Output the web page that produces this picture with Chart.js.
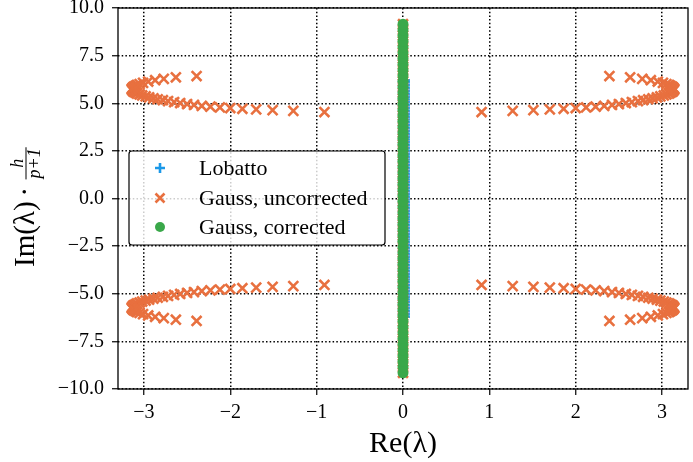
<!DOCTYPE html>
<html><head><meta charset="utf-8">
<script src="https://cdn.jsdelivr.net/npm/chart.js@4.4.0/dist/chart.umd.min.js"></script>
<style>html,body{margin:0;padding:0;background:#fff}</style>
</head><body>
<canvas id="c" width="693" height="462"></canvas>
<script>
// ---- data ----
const xTicks = [-3, -2, -1, 0, 1, 2, 3];
const yTicks = [-10, -7.5, -5, -2.5, 0, 2.5, 5, 7.5, 10];
const seriesNames = ["Lobatto", "Gauss, uncorrected", "Gauss, corrected"];

// eigenvalues on the imaginary axis (Re = 0)
const centerIm = [-9.15,-8.85,-8.55,-8.25,-7.95,-7.65,-7.35,-7.05,-6.75,-6.45,-6.15,-5.85,-5.55,-5.25,-4.95,-4.65,-4.35,-4.05,-3.75,-3.45,-3.15,-2.85,-2.55,-2.25,-1.95,-1.65,-1.35,-1.05,-0.75,-0.45,-0.15,0.15,0.45,0.75,1.05,1.35,1.65,1.95,2.25,2.55,2.85,3.15,3.45,3.75,4.05,4.35,4.65,4.95,5.25,5.55,5.85,6.15,6.45,6.75,7.05,7.35,7.65,7.95,8.25,8.55,8.85,9.15];
const lobattoIm = [-6.2,-6.05,-5.9,-5.75,-5.6,-5.45,-5.3,-5.15,-5.0,-4.85,-4.7,-4.55,-4.4,-4.25,-4.1,-3.95,-3.8,-3.65,-3.5,-3.35,-3.2,-3.05,-2.9,-2.75,-2.6,-2.45,-2.3,-2.15,-2.0,-1.85,-1.7,-1.55,-1.4,-1.25,-1.1,-0.95,-0.8,-0.65,-0.5,-0.35,-0.2,-0.05,0.1,0.25,0.4,0.55,0.7,0.85,1.0,1.15,1.3,1.45,1.6,1.75,1.9,2.05,2.2,2.35,2.5,2.65,2.8,2.95,3.1,3.25,3.4,3.55,3.7,3.85,4.0,4.15,4.3,4.45,4.6,4.75,4.9,5.05,5.2,5.35,5.5,5.65,5.8,5.95,6.1,6.2];
const lobattoRe = 0.01;

// Gauss, uncorrected: the four loops
const ulRe = [-0.91,-1.27,-1.51,-1.70,-1.86,-2.00,-2.12,-2.23,-2.33,-2.42,-2.50,-2.58,-2.65,-2.72,-2.78,-2.84,-2.89,-2.94,-2.98,-3.02,-3.05,-3.08,-3.10,-3.12,-3.13,-3.14,-3.14,-3.13,-3.12,-3.10,-3.08,-3.05,-3.01,-2.95,-2.87,-2.77,-2.63,-2.39];
const ulIm = [4.54,4.60,4.64,4.68,4.71,4.75,4.78,4.82,4.86,4.91,4.96,5.01,5.06,5.11,5.16,5.21,5.26,5.31,5.36,5.41,5.46,5.51,5.56,5.61,5.66,5.71,5.76,5.81,5.86,5.91,5.96,6.01,6.07,6.14,6.21,6.28,6.36,6.43];
const urRe = [0.91,1.27,1.51,1.70,1.86,2.00,2.12,2.23,2.33,2.42,2.50,2.58,2.65,2.72,2.78,2.84,2.89,2.94,2.98,3.02,3.05,3.08,3.10,3.12,3.13,3.14,3.14,3.13,3.12,3.10,3.08,3.05,3.01,2.95,2.87,2.77,2.63,2.39];
const urIm = [4.54,4.60,4.64,4.68,4.71,4.75,4.78,4.82,4.86,4.91,4.96,5.01,5.06,5.11,5.16,5.21,5.26,5.31,5.36,5.41,5.46,5.51,5.56,5.61,5.66,5.71,5.76,5.81,5.86,5.91,5.96,6.01,6.07,6.14,6.21,6.28,6.36,6.43];
const llRe = [-0.91,-1.27,-1.51,-1.70,-1.86,-2.00,-2.12,-2.23,-2.33,-2.42,-2.50,-2.58,-2.65,-2.72,-2.78,-2.84,-2.89,-2.94,-2.98,-3.02,-3.05,-3.08,-3.10,-3.12,-3.13,-3.14,-3.14,-3.13,-3.12,-3.10,-3.08,-3.05,-3.01,-2.95,-2.87,-2.77,-2.63,-2.39];
const llIm = [-4.54,-4.60,-4.64,-4.68,-4.71,-4.75,-4.78,-4.82,-4.86,-4.91,-4.96,-5.01,-5.06,-5.11,-5.16,-5.21,-5.26,-5.31,-5.36,-5.41,-5.46,-5.51,-5.56,-5.61,-5.66,-5.71,-5.76,-5.81,-5.86,-5.91,-5.96,-6.01,-6.07,-6.14,-6.21,-6.28,-6.36,-6.43];
const lrRe = [0.91,1.27,1.51,1.70,1.86,2.00,2.12,2.23,2.33,2.42,2.50,2.58,2.65,2.72,2.78,2.84,2.89,2.94,2.98,3.02,3.05,3.08,3.10,3.12,3.13,3.14,3.14,3.13,3.12,3.10,3.08,3.05,3.01,2.95,2.87,2.77,2.63,2.39];
const lrIm = [-4.54,-4.60,-4.64,-4.68,-4.71,-4.75,-4.78,-4.82,-4.86,-4.91,-4.96,-5.01,-5.06,-5.11,-5.16,-5.21,-5.26,-5.31,-5.36,-5.41,-5.46,-5.51,-5.56,-5.61,-5.66,-5.71,-5.76,-5.81,-5.86,-5.91,-5.96,-6.01,-6.07,-6.14,-6.21,-6.28,-6.36,-6.43];

// ---- build points ----
function pts(re, im) { return re.map((r, i) => ({x: r, y: im[i]})); }
const lobattoPts = lobattoIm.map(v => ({x: lobattoRe, y: v}));
const centerPts = centerIm.map(v => ({x: 0, y: v}));
const gaussUncPts = [].concat(centerPts, pts(ulRe, ulIm), pts(urRe, urIm), pts(llRe, llIm), pts(lrRe, lrIm));
const gaussCorPts = centerIm.map(v => ({x: 0, y: v}));

const BLUE = '#1b98e8', ORANGE = '#e8703f', GREEN = '#3aa84a';
const SERIF = '"Liberation Serif", "DejaVu Serif", serif';
const minus = s => String(s).replace('-', '\u2212');

const decor = {
  id: 'decor',
  afterDraw(chart) {
    const ctx = chart.ctx, a = chart.chartArea;
    ctx.save();
    // frame
    ctx.strokeStyle = '#000'; ctx.lineWidth = 1.3; ctx.setLineDash([]);
    ctx.strokeRect(a.left, a.top, a.right - a.left, a.bottom - a.top);
    // legend
    const lx = 129, ly = 151, lw = 256, lh = 94, r = 3;
    ctx.beginPath();
    ctx.moveTo(lx + r, ly); ctx.lineTo(lx + lw - r, ly); ctx.arcTo(lx + lw, ly, lx + lw, ly + r, r);
    ctx.lineTo(lx + lw, ly + lh - r); ctx.arcTo(lx + lw, ly + lh, lx + lw - r, ly + lh, r);
    ctx.lineTo(lx + r, ly + lh); ctx.arcTo(lx, ly + lh, lx, ly + lh - r, r);
    ctx.lineTo(lx, ly + r); ctx.arcTo(lx, ly, lx + r, ly, r); ctx.closePath();
    ctx.fillStyle = 'rgba(255,255,255,0.8)'; ctx.fill();
    ctx.strokeStyle = '#000'; ctx.lineWidth = 1.2; ctx.stroke();
    const mx = 160, rows = [168, 198, 227];
    // plus
    ctx.strokeStyle = BLUE; ctx.lineWidth = 2.6; ctx.lineCap = 'butt';
    ctx.beginPath(); ctx.moveTo(mx - 5, rows[0]); ctx.lineTo(mx + 5, rows[0]);
    ctx.moveTo(mx, rows[0] - 5); ctx.lineTo(mx, rows[0] + 5); ctx.stroke();
    // x
    ctx.strokeStyle = ORANGE;
    ctx.beginPath(); ctx.moveTo(mx - 4.5, rows[1] - 4.5); ctx.lineTo(mx + 4.5, rows[1] + 4.5);
    ctx.moveTo(mx - 4.5, rows[1] + 4.5); ctx.lineTo(mx + 4.5, rows[1] - 4.5); ctx.stroke();
    // circle
    ctx.fillStyle = GREEN; ctx.beginPath(); ctx.arc(mx, rows[2], 5, 0, Math.PI * 2); ctx.fill();
    ctx.fillStyle = '#000'; ctx.font = '22px ' + SERIF; ctx.textBaseline = 'middle'; ctx.textAlign = 'left';
    seriesNames.forEach((n, i) => ctx.fillText(n, 199, rows[i] + 1));
    // x title
    ctx.font = '30px ' + SERIF; ctx.textAlign = 'center'; ctx.textBaseline = 'alphabetic';
    ctx.fillText('Re(\u03bb)', (a.left + a.right) / 2, 452);
    // y title (rotated) with fraction
    ctx.translate(34, 267); ctx.rotate(-Math.PI / 2);
    ctx.textAlign = 'left';
    ctx.font = '29px ' + SERIF;
    const t1 = 'Im(\u03bb)';
    ctx.fillText(t1, 0, 0);
    const w1 = ctx.measureText(t1).width;
    ctx.fillText('\u00b7', w1 + 5, 0);
    const fx = w1 + 22;
    ctx.font = 'italic 18px ' + SERIF;
    const dw = ctx.measureText('p+1').width;
    const barY = -8;
    ctx.lineWidth = 1; ctx.strokeStyle = '#000';
    ctx.beginPath(); ctx.moveTo(fx, barY); ctx.lineTo(fx + dw + 2, barY); ctx.stroke();
    ctx.textAlign = 'center';
    ctx.fillText('h', fx + 1 + dw / 2, barY - 3);
    ctx.fillText('p+1', fx + 1 + dw / 2, barY + 14);
    ctx.restore();
  }
};

const tickFont = {family: SERIF, size: 20};
function noPad(s) { s.paddingTop = 0; s.paddingBottom = 0; s.paddingLeft = 0; s.paddingRight = 0; }
const gridOpts = {color: '#000', lineWidth: 1.5, tickLength: 6, tickColor: '#000', tickWidth: 1.2, tickBorderDash: []};
new Chart(document.getElementById('c'), {
  type: 'scatter',
  data: {
    datasets: [
      {label: seriesNames[0], data: lobattoPts, pointStyle: 'cross', pointRadius: 6, borderColor: BLUE, backgroundColor: BLUE, pointBorderWidth: 2.6, order: 2},
      {label: seriesNames[1], data: gaussUncPts, pointStyle: 'crossRot', pointRadius: 7, borderColor: ORANGE, backgroundColor: ORANGE, pointBorderWidth: 2.6, order: 1},
      {label: seriesNames[2], data: gaussCorPts, pointStyle: 'circle', pointRadius: 5.5, borderColor: GREEN, backgroundColor: GREEN, pointBorderWidth: 0, order: 0}
    ]
  },
  options: {
    responsive: false, animation: false, devicePixelRatio: 1,
    layout: {autoPadding: false, padding: {left: 0, right: 5, top: 8, bottom: 0}},
    plugins: {legend: {display: false}, tooltip: {enabled: false}},
    scales: {
      x: {
        type: 'linear', min: -3.3, max: 3.3,
        afterBuildTicks: s => { s.ticks = xTicks.map(v => ({value: v})); },
        afterFit: s => { s.height = 73; noPad(s); },
        ticks: {font: tickFont, color: '#000', padding: 6, maxRotation: 0, callback: v => minus(v)},
        grid: gridOpts,
        border: {display: false, dash: [1.5, 2.2]}
      },
      y: {
        type: 'linear', min: -10, max: 10,
        afterBuildTicks: s => { s.ticks = yTicks.map(v => ({value: v})); },
        afterFit: s => { s.width = 118; noPad(s); },
        ticks: {font: tickFont, color: '#000', padding: 8, callback: v => minus(Number(v).toFixed(1))},
        grid: gridOpts,
        border: {display: false, dash: [1.5, 2.2]}
      }
    }
  },
  plugins: [decor]
});
</script>
</body></html>
